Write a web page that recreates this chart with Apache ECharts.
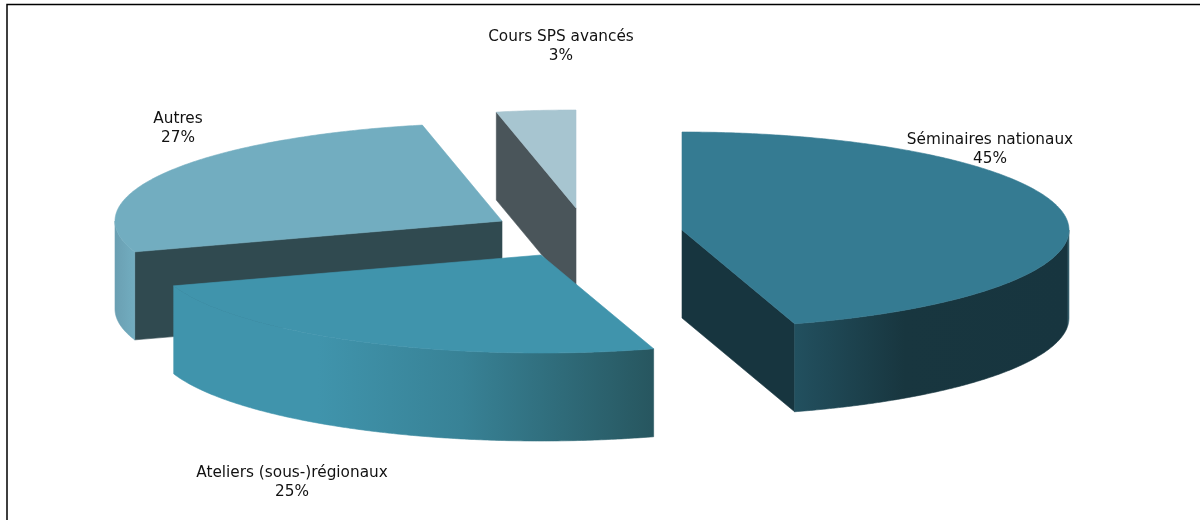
<!DOCTYPE html>
<html>
<head>
<meta charset="utf-8">
<style>
html, body { margin: 0; padding: 0; background: #fff; }
#chart { width: 1200px; height: 520px; }
</style>
<script src="https://cdn.jsdelivr.net/npm/echarts@6/dist/echarts.min.js"></script>
</head>
<body>
<div id="chart"></div>
<script>
// values
var names = ['Séminaires nationaux', 'Ateliers (sous-)régionaux', 'Autres', 'Cours SPS avancés'];
var shares = [45.3, 24.6, 26.8, 3.3];

// layout of the exploded slices, one entry per slice
var apexX = [682, 541, 502, 576];
var apexY = [230, 255, 221, 208];
var labelX = [990, 292, 178, 561];
var labelY = [150, 483, 129, 47];
var drawOrder = [3, 2, 1, 0]; // z2 per slice

var rx = 387, ry = 98, depth = 88;

var topColors = ['#357b92', '#4094ac', '#72adc0', '#a7c5d0'];
var edgeColors = ['#17353f', '#27565f', '#304a50', '#4a555a'];
var outerColors = [
    [[0, '#22505f'], [0.4, '#18363f'], [0.99, '#17353f'], [1, '#3f6c7a']],
    [[0, '#4094ac'], [0.3, '#4094ac'], [0.6, '#388296'], [1, '#27565f']],
    [[0, '#6a9fb2'], [1, '#72adc0']],
    [[0, '#4a555a'], [1, '#4a555a']]
];

var total = shares.reduce(function (a, b) { return a + b; }, 0);

// position on the ellipse, angle in degrees clockwise from 12 o'clock
function rim(cx, cy, deg) {
    var a = deg * Math.PI / 180;
    return [cx + rx * Math.sin(a), cy - ry * Math.cos(a)];
}

function arc(cx, cy, from, to) {
    var pts = [];
    var n = Math.max(2, Math.ceil((to - from) * 2));
    for (var i = 0; i <= n; i++) {
        pts.push(rim(cx, cy, from + (to - from) * i / n));
    }
    return pts;
}

function lowered(pts) {
    return pts.map(function (p) { return [p[0], p[1] + depth]; }).reverse();
}

// same colour stroke closes the hairline seams between faces
function paint(color) {
    return { fill: color, stroke: color, lineWidth: 0.6 };
}

function renderSlice(params, api) {
    var i = params.dataIndex;
    var start = 0;
    for (var k = 0; k < i; k++) start += shares[k];
    start = start / total * 360;
    var end = start + api.value(0) / total * 360;
    var cx = apexX[i], cy = apexY[i];
    var z = drawOrder[i] * 10;
    var children = [];

    // flat edge, only when it faces the viewer
    function addEdge(deg) {
        var line = [[cx, cy], rim(cx, cy, deg)];
        children.push({
            type: 'polygon', z2: z,
            shape: { points: line.concat(lowered(line)) },
            style: paint(edgeColors[i])
        });
    }
    if (start > 180) addEdge(start);
    if (end < 180) addEdge(end);

    // outer wall, front half of the ellipse only
    var from = Math.max(start, 90), to = Math.min(end, 270);
    if (to > from) {
        var wall = arc(cx, cy, from, to);
        var stops = outerColors[i].map(function (s) { return { offset: s[0], color: s[1] }; });
        children.push({
            type: 'polygon', z2: z + 1,
            shape: { points: wall.concat(lowered(wall)) },
            style: paint(new echarts.graphic.LinearGradient(0, 0, 1, 0, stops))
        });
    }

    // top face
    children.push({
        type: 'polygon', z2: z + 2,
        shape: { points: [[cx, cy]].concat(arc(cx, cy, start, end)) },
        style: paint(topColors[i])
    });

    children.push({
        type: 'text', z2: 100,
        style: {
            x: labelX[i], y: labelY[i],
            text: names[i] + '\n' + Math.round(api.value(0)) + '%',
            align: 'center', verticalAlign: 'middle',
            fontFamily: 'DejaVu Sans', fontSize: 15.3, lineHeight: 19,
            fill: '#111'
        }
    });

    return { type: 'group', children: children };
}

var myChart = echarts.init(document.getElementById('chart'), null, { renderer: 'canvas' });
var option = {
    animation: false,
    backgroundColor: '#fff',
    graphic: [{
        type: 'polyline',
        shape: { points: [[7, 520], [7, 4.5], [1200, 4.5]] },
        style: { stroke: '#000', lineWidth: 1.5, fill: null }
    }],
    series: [{
        type: 'custom',
        coordinateSystem: 'none',
        renderItem: renderSlice,
        data: shares.map(function (v, i) { return { name: names[i], value: [v] }; })
    }]
};
myChart.setOption(option);
</script>
</body>
</html>
